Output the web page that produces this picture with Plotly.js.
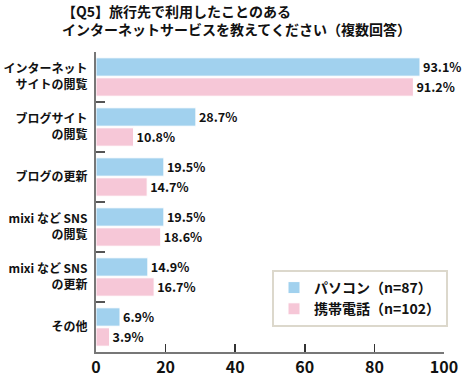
<!DOCTYPE html>
<html><head><meta charset="utf-8">
<script src="https://cdn.plot.ly/plotly-3.0.1.min.js"></script>
<style>html,body{margin:0;padding:0;background:#fff}#c{width:467px;height:377px}</style>
</head><body><div id="c"></div>
<script>
const categories = ["インターネット<br>サイトの閲覧", "ブログサイト<br>の閲覧", "ブログの更新", "mixi など SNS<br>の閲覧", "mixi など SNS<br>の更新", "その他"];
const pcValues = [93.1, 28.7, 19.5, 19.5, 14.9, 6.9];
const mobileValues = [91.2, 10.8, 14.7, 18.6, 16.7, 3.9];
const seriesNames = ["パソコン（n=87）", "携帯電話（n=102）"];
const xTicks = [0, 20, 40, 60, 80, 100];

const F = '"Noto Sans CJK JP", "Noto Sans", sans-serif';
function mk(vals, name, color) {
  return {
    type: 'bar', orientation: 'h', y: categories, x: vals, name: name,
    marker: {color: color, line: {color: '#ffffff', width: 1}},
    text: vals.map(v => v.toFixed(1) + '%'), textposition: 'outside',
    textfont: {family: F, size: 13, color: '#111', weight: 'bold'},
    cliponaxis: false
  };
}
const data = [mk(pcValues, seriesNames[0], '#a1d1ee'), mk(mobileValues, seriesNames[1], '#f6c7d7')];
const layout = {
  width: 467, height: 377,
  margin: {l: 96, r: 23, t: 52, b: 25},
  paper_bgcolor: '#fff', plot_bgcolor: '#fff',
  barmode: 'group', bargap: 0.2, bargroupgap: 0.08,
  title: {text: '【Q5】旅行先で利用したことのある<br>インターネットサービスを教えてください（複数回答）',
    x: 62/467, xanchor: 'left', yref: 'container', y: 1 - 17/377, yanchor: 'top',
    font: {family: F, size: 14, color: '#111', weight: 'bold'}},
  xaxis: {range: [0, 100], tickvals: xTicks, ticks: 'inside', ticklen: 8, tickwidth: 1.5, tickcolor: '#333',
    showline: true, linecolor: '#777', linewidth: 2, showgrid: false, zeroline: false, ticklabelstandoff: 0,
    tickfont: {family: F, size: 16, color: '#111', weight: 'bold'}},
  yaxis: {autorange: 'reversed', type: 'category', ticks: 'inside', tickson: 'boundaries', ticklen: 9, tickwidth: 1.5, tickcolor: '#555',
    showline: true, linecolor: '#777', linewidth: 2, showgrid: false, zeroline: false, ticklabelstandoff: 4,
    tickfont: {family: F, size: 12, color: '#111', weight: 'bold'}},
  showlegend: true,
  legend: {x: (272-96)/348, xanchor: 'left', y: (352-270)/300, yanchor: 'top',
    bgcolor: '#fff', bordercolor: '#dcd8cc', borderwidth: 2,
    font: {family: F, size: 14, color: '#111', weight: 'bold'}, traceorder: 'normal', itemwidth: 30}
};
Plotly.newPlot('c', data, layout, {displayModeBar: false, staticPlot: true});
</script></body></html>
